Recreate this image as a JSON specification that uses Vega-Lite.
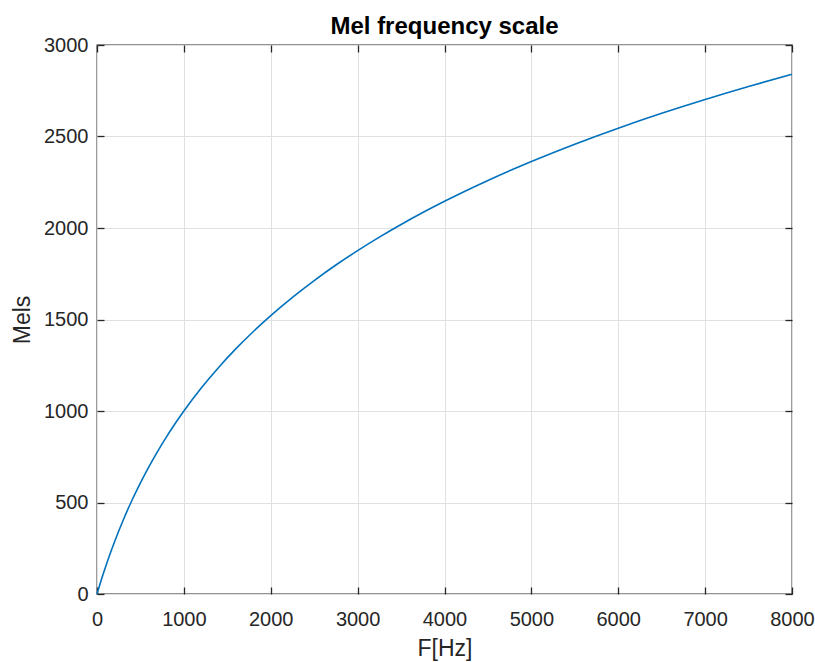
{
  "$schema": "https://vega.github.io/schema/vega-lite/v6.json",
  "width": 695,
  "height": 549,
  "autosize": {"type": "none"},
  "padding": {"left": 97, "top": 45, "right": 23, "bottom": 68},
  "background": "white",
  "title": {
    "text": "Mel frequency scale",
    "font": "Liberation Sans",
    "fontSize": 24,
    "fontWeight": "bold",
    "color": "#000000",
    "anchor": "middle",
    "frame": "group",
    "offset": -4
  },
  "config": {
    "view": {"stroke": "#262626", "strokeWidth": 1.3},
    "axis": {
      "labelFont": "Liberation Sans",
      "titleFont": "Liberation Sans",
      "labelColor": "#262626",
      "titleColor": "#262626",
      "titleFontWeight": "normal",
      "labelFontSize": 20,
      "titleFontSize": 23,
      "domain": false,
      "tickColor": "#262626",
      "tickWidth": 1.3,
      "tickSize": 7,
      "gridColor": "#e0e0e0",
      "gridWidth": 1,
      "labelFlush": false,
      "labelOverlap": false,
      "minExtent": 0,
      "format": "d"
    }
  },
  "data": {
    "values": [
      {"f": 0, "mel": 0},
      {"f": 25, "mel": 39.55},
      {"f": 50, "mel": 77.76},
      {"f": 75, "mel": 114.71},
      {"f": 100, "mel": 150.49},
      {"f": 150, "mel": 218.82},
      {"f": 200, "mel": 283.23},
      {"f": 300, "mel": 401.98},
      {"f": 400, "mel": 509.39},
      {"f": 500, "mel": 607.45},
      {"f": 600, "mel": 697.67},
      {"f": 700, "mel": 781.17},
      {"f": 800, "mel": 858.93},
      {"f": 900, "mel": 931.67},
      {"f": 1000, "mel": 1000.0},
      {"f": 1200, "mel": 1125.36},
      {"f": 1400, "mel": 1238.15},
      {"f": 1600, "mel": 1340.68},
      {"f": 1800, "mel": 1434.65},
      {"f": 2000, "mel": 1521.39},
      {"f": 2250, "mel": 1621.19},
      {"f": 2500, "mel": 1712.87},
      {"f": 2750, "mel": 1797.64},
      {"f": 3000, "mel": 1876.49},
      {"f": 3250, "mel": 1950.18},
      {"f": 3500, "mel": 2019.34},
      {"f": 3750, "mel": 2084.5},
      {"f": 4000, "mel": 2146.1},
      {"f": 4500, "mel": 2260.03},
      {"f": 5000, "mel": 2363.51},
      {"f": 5500, "mel": 2458.26},
      {"f": 6000, "mel": 2545.67},
      {"f": 6500, "mel": 2626.79},
      {"f": 7000, "mel": 2702.45},
      {"f": 7500, "mel": 2773.36},
      {"f": 8000, "mel": 2840.03}
    ]
  },
  "layer": [
    {
      "mark": {"type": "line", "color": "#0072BD", "strokeWidth": 1.6, "interpolate": "monotone"},
      "encoding": {
        "x": {
          "field": "f",
          "type": "quantitative",
          "scale": {"domain": [0, 8000], "nice": false, "zero": false},
          "axis": {
            "orient": "bottom",
            "values": [0, 1000, 2000, 3000, 4000, 5000, 6000, 7000, 8000],
            "title": "F[Hz]",
            "ticks": false,
            "labelPadding": 15,
            "titlePadding": 8
          }
        },
        "y": {
          "field": "mel",
          "type": "quantitative",
          "scale": {"domain": [0, 3000], "nice": false},
          "axis": {
            "orient": "left",
            "values": [0, 500, 1000, 1500, 2000, 2500, 3000],
            "title": "Mels",
            "ticks": false,
            "labelPadding": 9,
            "titlePadding": 9
          }
        }
      }
    },
    {
      "mark": {"type": "line", "opacity": 0},
      "encoding": {
        "x": {
          "field": "f",
          "type": "quantitative",
          "scale": {"domain": [0, 8000], "nice": false, "zero": false},
          "axis": {
            "orient": "top",
            "offset": -549,
            "values": [0, 1000, 2000, 3000, 4000, 5000, 6000, 7000, 8000],
            "labels": false,
            "grid": false,
            "title": null
          }
        },
        "y": {
          "field": "mel",
          "type": "quantitative",
          "scale": {"domain": [0, 3000], "nice": false},
          "axis": {
            "orient": "right",
            "offset": -695,
            "values": [0, 500, 1000, 1500, 2000, 2500, 3000],
            "labels": false,
            "grid": false,
            "title": null
          }
        }
      }
    },
    {
      "mark": {"type": "line", "opacity": 0},
      "encoding": {
        "x": {
          "field": "f",
          "type": "quantitative",
          "scale": {"domain": [0, 8000], "nice": false, "zero": false},
          "axis": {
            "orient": "bottom",
            "offset": -549,
            "values": [0, 1000, 2000, 3000, 4000, 5000, 6000, 7000, 8000],
            "labels": false,
            "grid": false,
            "title": null
          }
        },
        "y": {
          "field": "mel",
          "type": "quantitative",
          "scale": {"domain": [0, 3000], "nice": false},
          "axis": {
            "orient": "left",
            "offset": -695,
            "values": [0, 500, 1000, 1500, 2000, 2500, 3000],
            "labels": false,
            "grid": false,
            "title": null
          }
        }
      }
    }
  ],
  "resolve": {"axis": {"x": "independent", "y": "independent"}}
}
